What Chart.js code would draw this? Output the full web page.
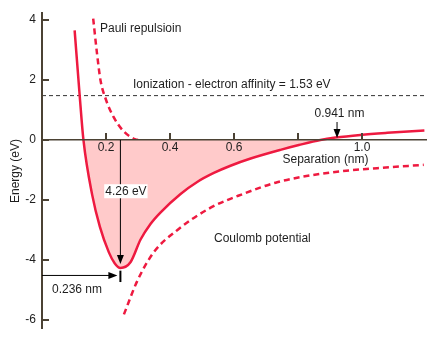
<!DOCTYPE html>
<html>
<head>
<meta charset="utf-8">
<script src="https://cdn.jsdelivr.net/npm/chart.js@4/dist/chart.umd.min.js"></script>
<style>
  html, body { margin: 0; padding: 0; background: #fff; }
  #chart { display: block; }
</style>
</head>
<body>
<canvas id="chart" width="436" height="342"></canvas>
<script>
// separation (nm) and energy (eV)
const morseR = [0.102, 0.118, 0.1295, 0.157, 0.181, 0.209, 0.227, 0.245, 0.277, 0.308, 0.339, 0.370, 0.433, 0.485, 0.537, 0.589, 0.652, 0.745, 0.8025, 0.87, 0.917, 0.995, 1.079, 1.195]
const morseE = [3.66, 1.45, 0, -1.84, -2.90, -3.75, -4.11, -4.27, -4.07, -3.32, -2.80, -2.42, -1.80, -1.40, -1.10, -0.86, -0.62, -0.33, -0.17, 0, 0.08, 0.17, 0.24, 0.32]

const pauliR = [0.16, 0.1725, 0.183, 0.198, 0.224, 0.256, 0.292, 0.30]
const pauliE = [4.05, 2.83, 1.98, 1.40, 0.76, 0.28, 0.02, 0]

const coulombR = [0.256, 0.2975, 0.349, 0.4225, 0.527, 0.631, 0.735, 0.891, 1.0475, 1.193]
const coulombE = [-5.82, -4.71, -3.75, -3.01, -2.26, -1.79, -1.41, -1.10, -0.94, -0.83]

const ionizationE = 1.48
const minR = 0.245
const minE = -4.27
const crossR = 0.922

const xTicks = [0.2, 0.4, 0.6, 0.8, 1.0]
const xTickLabels = ['0.2', '0.4', '0.6', '', '1.0']
const yTicks = [4, 2, 0, -2, -4, -6]

const red = '#ee1a40'
const axisColor = '#4b4234'
const textColor = '#1e1e1e'
const font = "12px 'Liberation Sans', Arial, sans-serif"

const points = (xs, ys) => xs.map((v, i) => ({ x: v, y: ys[i] }))

const notes = {
  id: 'notes',
  afterDraw(chart) {
    const { ctx, scales: { x, y } } = chart
    ctx.save()

    // tick marks sit inside the plot
    ctx.strokeStyle = axisColor
    ctx.lineWidth = 2
    ctx.beginPath()
    xTicks.forEach(v => {
      const px = Math.round(x.getPixelForValue(v))
      ctx.moveTo(px, y.getPixelForValue(0) - 7)
      ctx.lineTo(px, y.getPixelForValue(0))
    })
    yTicks.forEach(v => {
      const py = Math.round(y.getPixelForValue(v))
      ctx.moveTo(x.getPixelForValue(0), py)
      ctx.lineTo(x.getPixelForValue(0) + 7, py)
    })
    ctx.stroke()

    const arrow = (x1, y1, x2, y2) => {
      const a = Math.atan2(y2 - y1, x2 - x1)
      ctx.strokeStyle = '#000'
      ctx.fillStyle = '#000'
      ctx.lineWidth = 1
      ctx.beginPath()
      ctx.moveTo(x1, y1)
      ctx.lineTo(x2 - 8 * Math.cos(a), y2 - 8 * Math.sin(a))
      ctx.stroke()
      ctx.beginPath()
      ctx.moveTo(x2, y2)
      ctx.lineTo(x2 - 9 * Math.cos(a) + 3.5 * Math.sin(a), y2 - 9 * Math.sin(a) - 3.5 * Math.cos(a))
      ctx.lineTo(x2 - 9 * Math.cos(a) - 3.5 * Math.sin(a), y2 - 9 * Math.sin(a) + 3.5 * Math.cos(a))
      ctx.closePath()
      ctx.fill()
    }

    const xm = x.getPixelForValue(minR)
    // depth arrow
    arrow(xm, y.getPixelForValue(0), xm, y.getPixelForValue(minE) - 4)
    // position arrow
    const ya = y.getPixelForValue(-4.52)
    arrow(x.getPixelForValue(0), ya, xm - 3, ya)
    ctx.lineWidth = 2
    ctx.beginPath()
    ctx.moveTo(xm, y.getPixelForValue(-4.36))
    ctx.lineTo(xm, y.getPixelForValue(-4.74))
    ctx.stroke()
    // crossing arrow
    const xc = x.getPixelForValue(crossR)
    arrow(xc, 122, xc, y.getPixelForValue(0) - 2)

    ctx.font = font
    ctx.textBaseline = 'middle'
    ctx.textAlign = 'center'
    const depth = '4.26 eV'
    const dw = ctx.measureText(depth).width
    const dy = y.getPixelForValue(-1.71)
    ctx.fillStyle = '#fff'
    ctx.fillRect(xm + 5.5 - dw / 2 - 1, dy - 7, dw + 2, 14)
    ctx.fillStyle = textColor
    ctx.fillText(depth, xm + 5.5, dy)

    ctx.textAlign = 'left'
    ctx.fillText('0.236 nm', 52, 290)
    ctx.fillText('Pauli repulsioin', 100, 29)
    ctx.fillText('Ionization - electron affinity = 1.53 eV', 133, 84.5)
    ctx.fillText('0.941 nm', 314.5, 114)
    ctx.fillText('Separation (nm)', 282.5, 160)
    ctx.fillText('Coulomb potential', 214, 239)
    ctx.restore()
  }
}

new Chart(document.getElementById('chart'), {
  type: 'line',
  data: {
    datasets: [
      {
        label: 'Potential',
        data: points(morseR, morseE),
        borderColor: red,
        borderWidth: 2.5,
        fill: { target: { value: 0 }, above: 'rgba(0,0,0,0)', below: '#ffcaca' },
        cubicInterpolationMode: 'monotone',
        pointRadius: 0
      },
      {
        label: 'Pauli repulsion',
        data: points(pauliR, pauliE),
        borderColor: red,
        borderWidth: 2.5,
        borderDash: [6, 4],
        cubicInterpolationMode: 'monotone',
        pointRadius: 0
      },
      {
        label: 'Coulomb potential',
        data: points(coulombR, coulombE),
        borderColor: red,
        borderWidth: 2.5,
        borderDash: [6, 4],
        cubicInterpolationMode: 'monotone',
        pointRadius: 0
      },
      {
        label: 'Ionization',
        data: [{ x: 0, y: ionizationE }, { x: 1.2, y: ionizationE }],
        borderColor: '#333',
        borderWidth: 1,
        borderDash: [4, 3],
        pointRadius: 0
      }
    ]
  },
  options: {
    responsive: false,
    animation: false,
    devicePixelRatio: 1,
    layout: { padding: { top: 6, bottom: 5, right: 10, left: 0 } },
    plugins: {
      legend: { display: false },
      tooltip: { enabled: false }
    },
    scales: {
      x: {
        type: 'linear',
        min: 0,
        max: 1.2,
        position: { y: 0 },
        afterBuildTicks: s => { s.ticks = xTicks.map(v => ({ value: v })) },
        ticks: {
          callback: v => xTickLabels[xTicks.indexOf(v)] ?? '',
          font: { family: "'Liberation Sans', Arial", size: 12 },
          color: textColor,
          padding: 1,
          maxRotation: 0,
          autoSkip: false,
          z: 1
        },
        grid: { display: false, drawTicks: false },
        border: { color: axisColor, width: 1.5, z: 1 }
      },
      y: {
        min: -6.3,
        max: 4.23,
        afterBuildTicks: s => { s.ticks = yTicks.map(v => ({ value: v })) },
        afterFit: s => { s.width = 42 },
        ticks: {
          font: { family: "'Liberation Sans', Arial", size: 12 },
          color: textColor,
          padding: 6,
          z: 1
        },
        title: {
          display: true,
          text: 'Energy (eV)',
          font: { family: "'Liberation Sans', Arial", size: 12 },
          color: textColor,
          padding: { top: 8, bottom: 0 }
        },
        grid: { display: false, drawTicks: false },
        border: { color: axisColor, width: 2, z: 1 }
      }
    }
  },
  plugins: [notes]
})
</script>
</body>
</html>
